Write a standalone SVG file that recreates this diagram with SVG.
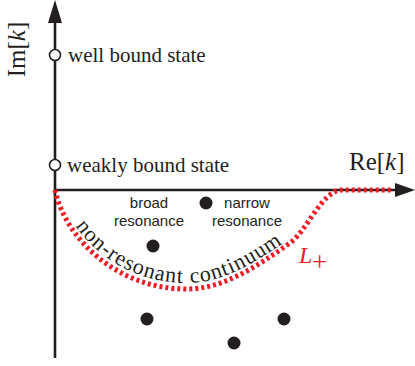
<svg xmlns="http://www.w3.org/2000/svg" width="415" height="366" viewBox="0 0 415 366">
<defs>
<style>
.ser{font-family:"Liberation Serif",serif;fill:#231f20}
.sans{font-family:"Liberation Sans",Arial,sans-serif;font-size:15px;fill:#231f20;text-anchor:middle}
.axis{stroke:#231f20;stroke-width:2.6;fill:none}
.open{fill:#fff;stroke:#231f20;stroke-width:1.6}
.dot{fill:#231f20}
.red{fill:none;stroke:#ed1c24;stroke-width:5;stroke-dasharray:3 3}
</style>
<path id="tp" d="M58,188 C68,233 117,283 187,283 C222,283 253,264 288,240 C303,229 318,200 335,190"/>
</defs>
<g id="connectors">
<line class="axis" x1="55" y1="358" x2="55" y2="20"/>
<polygon points="55,0 48,23 62,23" fill="#231f20"/>
<line class="axis" x1="55" y1="190" x2="397" y2="190"/>
<polygon points="415,190 395,183 395,197" fill="#231f20"/>
<path id="contour" class="red" d="M55,190 C65,237 115,289 187,289 C222,289 255,268 290,243 C307.5,230.5 322,190 342,190 L392,190"/>
</g>
<g id="axis-labels">
<text class="ser" font-size="25" transform="translate(25,49.5) rotate(-90)" text-anchor="middle">Im[<tspan font-style="italic">k</tspan>]</text>
<text class="ser" font-size="25" x="349" y="170">Re[<tspan font-style="italic">k</tspan>]</text>
</g>
<g id="well-bound">
<circle class="open" cx="55" cy="55" r="5.5"/>
<text class="ser" font-size="21" x="68" y="62">well bound state</text>
</g>
<g id="weakly-bound">
<circle class="open" cx="55" cy="165" r="5.5"/>
<text class="ser" font-size="21" x="67" y="172">weakly bound state</text>
</g>
<g id="narrow-resonance">
<circle class="dot" cx="206" cy="203" r="6.5"/>
<text class="sans" x="247" y="208">narrow</text>
<text class="sans" x="247" y="226">resonance</text>
</g>
<g id="broad-resonance">
<circle class="dot" cx="153" cy="246" r="6.5"/>
<text class="sans" x="149" y="208">broad</text>
<text class="sans" x="149" y="226">resonance</text>
</g>
<g id="poles">
<circle class="dot" cx="147" cy="319" r="6.5"/>
<circle class="dot" cx="284" cy="319" r="6.5"/>
<circle class="dot" cx="234" cy="343" r="6.5"/>
</g>
<g id="continuum-label">
<text class="ser" font-size="22" letter-spacing="1"><textPath href="#tp" startOffset="42">non-resonant continuum</textPath></text>
</g>
<g id="L-plus">
<text font-family="Liberation Serif,serif" fill="#ed1c24" x="299" y="263"><tspan font-size="24" font-style="italic">L</tspan><tspan font-size="27" x="312" y="271">+</tspan></text>
</g>
</svg>
